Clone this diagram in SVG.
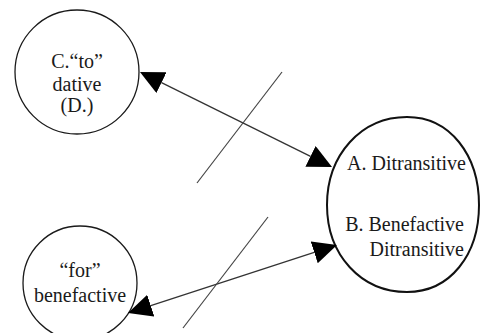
<svg xmlns="http://www.w3.org/2000/svg" width="480" height="333" viewBox="0 0 480 333">
<style>
.node{fill:#fff;stroke:#1a1a1a;stroke-width:1.3}
.big{fill:#fff;stroke:#111;stroke-width:2}
.lbl{font-family:'Liberation Serif','DejaVu Serif','Times New Roman',Times,serif;font-size:20px;fill:#1a1a1a}
.conn{stroke:#333;stroke-width:1.3;fill:none}
.slash{stroke:#444;stroke-width:1.2;fill:none}
</style>
<defs>
<marker id="ah" markerUnits="userSpaceOnUse" markerWidth="26" markerHeight="24" refX="0" refY="11.5" orient="auto-start-reverse" viewBox="0 0 26 24">
<path d="M0,0 L24,11.5 L0,23 z" fill="#000"/>
</marker>
</defs>
<g id="node-c-to-dative">
<circle class="node" cx="77" cy="72" r="62"/>
<text class="lbl" x="77" y="68" text-anchor="middle">C.“to”</text>
<text class="lbl" x="77" y="91" text-anchor="middle">dative</text>
<text class="lbl" x="77" y="112" text-anchor="middle">(D.)</text>
</g>
<g id="node-for-benefactive">
<circle class="node" cx="80" cy="283" r="57"/>
<text class="lbl" x="80" y="277" text-anchor="middle">“for”</text>
<text class="lbl" x="80" y="302" text-anchor="middle">benefactive</text>
</g>
<g id="node-ditransitive">
<path class="big" d="M327,205 C327,155 361,117 407,117 C450,117 479,155 479,205 C479,255 450,292 407,292 C361,292 327,255 327,205 z"/>
<text class="lbl" x="347" y="170">A. Ditransitive</text>
<text class="lbl" x="464" y="231" text-anchor="end">B. Benefactive</text>
<text class="lbl" x="464" y="256" text-anchor="end">Ditransitive</text>
</g>
<g id="connectors">
<line class="conn" x1="161.5" y1="82.6" x2="310.5" y2="156.4" marker-start="url(#ah)" marker-end="url(#ah)"/>
<line class="conn" x1="150.8" y1="305.6" x2="314.2" y2="252.4" marker-start="url(#ah)" marker-end="url(#ah)"/>
<line class="slash" x1="282" y1="72" x2="197" y2="183"/>
<line class="slash" x1="268" y1="217" x2="183" y2="328"/>
</g>
</svg>
